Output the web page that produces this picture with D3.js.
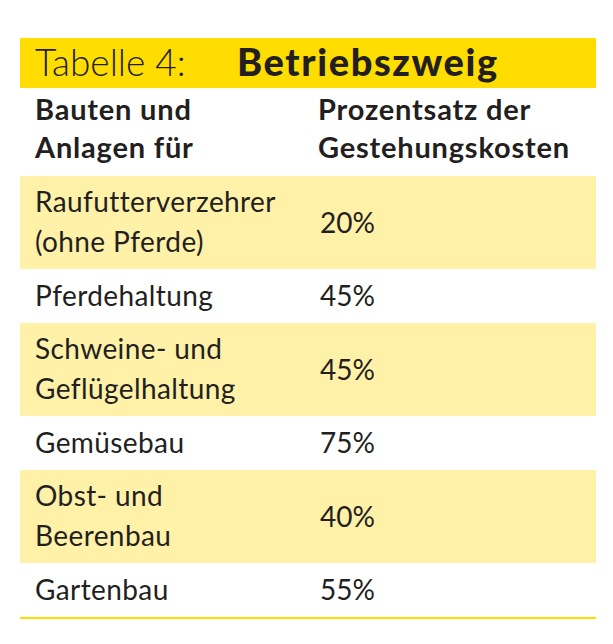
<meta charset="utf-8">
<script src="https://d3js.org/d3.v7.min.js"></script>
<body style="margin:0;background:#fff">
<svg id="vis"></svg>
<script>
  // Data
  var categories = [['Raufutterverzehrer', '(ohne Pferde)'], ['Pferdehaltung'], ['Schweine- und', 'Geflügelhaltung'], ['Gemüsebau'], ['Obst- und', 'Beerenbau'], ['Gartenbau']]
  var percentages = [20, 45, 45, 75, 40, 55]
  var headers = [['Bauten und', 'Anlagen für'], ['Prozentsatz der', 'Gestehungskosten']]

  var svg = d3.select('#vis').attr('width', 613).attr('height', 644)
  var font = 'Lato, sans-serif'
  var ink = '#231f20'

  // Title band
  svg.append('rect').attr('x', 20).attr('y', 38).attr('width', 576).attr('height', 50).attr('fill', '#ffdd00')
  svg.append('text').attr('x', 35).attr('y', 76).attr('font-family', font).attr('font-weight', 300)
    .attr('font-size', 37).attr('fill', ink).text('Tabelle 4:')
  svg.append('text').attr('x', 237).attr('y', 76).attr('font-family', font).attr('font-weight', 900)
    .attr('font-size', 38).attr('letter-spacing', 1.6).attr('fill', ink).text('Betriebszweig')

  // Column headers
  var colX = [35, 318]
  headers.forEach(function(h, c) {
    h.forEach(function(line, i) {
      svg.append('text').attr('x', colX[c]).attr('y', 120 + i * 38).attr('font-family', font)
        .attr('font-weight', 700).attr('font-size', 29).attr('letter-spacing', 0.8).attr('fill', ink).text(line)
    })
  })

  // Rows: cumulative heights from line count
  var tops = [], y = 176
  categories.forEach(function(c) { tops.push(y); y += c.length === 2 ? 93 : 54 })
  var rowY = d3.scaleOrdinal().domain(d3.range(categories.length)).range(tops)

  var rows = svg.selectAll('g.row').data(categories).enter().append('g')
    .attr('transform', function(d, i) { return 'translate(0,' + rowY(i) + ')' })

  rows.append('rect').attr('x', 20).attr('width', 576)
    .attr('height', function(d) { return d.length === 2 ? 93 : 54 })
    .attr('fill', function(d, i) { return i % 2 === 0 ? '#fff1a8' : '#fff' })

  rows.each(function(d, i) {
    var g = d3.select(this)
    var h = d.length === 2 ? 93 : 54
    d.forEach(function(line, j) {
      g.append('text').attr('x', 35).attr('y', d.length === 2 ? 36 + j * 40 : 37)
        .attr('font-family', font).attr('font-size', 28).attr('letter-spacing', 0.4).attr('fill', ink).text(line)
    })
    g.append('text').attr('x', 320).attr('y', h / 2 + 10).attr('font-family', font)
      .attr('font-size', 28).attr('fill', ink).text(percentages[i] + '%')
  })

  // Bottom rule
  svg.append('line').attr('x1', 20).attr('x2', 596).attr('y1', y + 1).attr('y2', y + 1)
    .attr('stroke', '#ffdd00').attr('stroke-width', 2)
</script>
</body>
